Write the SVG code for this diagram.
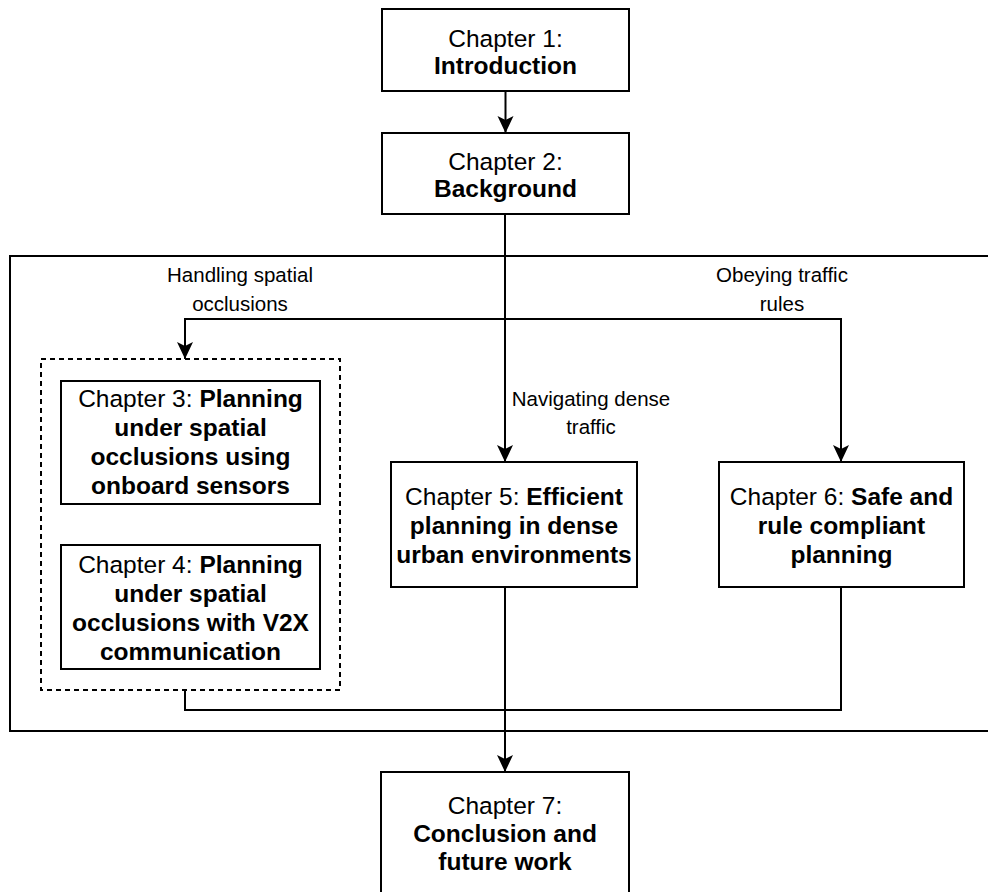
<svg xmlns="http://www.w3.org/2000/svg" width="988" height="892" viewBox="0 0 988 892">
  <style>
    .box { fill: #ffffff; stroke: #000000; stroke-width: 2; }
    .frame { fill: none; stroke: #000000; stroke-width: 2; }
    .group { fill: none; stroke: #000000; stroke-width: 2; stroke-dasharray: 5 4; }
    .edge { fill: none; stroke: #000000; stroke-width: 2; }
    .arrow { marker-end: url(#head); }
    text { font-family: "Liberation Sans", Arial, Helvetica, sans-serif; fill: #000000; text-anchor: middle; }
    .t { font-size: 24.5px; }
    .lbl { font-size: 20.5px; }
    .b { font-weight: bold; }
  </style>
  <defs>
    <marker id="head" markerUnits="userSpaceOnUse" markerWidth="18" markerHeight="18" viewBox="0 0 18 16" refX="17" refY="8" orient="auto">
      <path d="M0,0 L17,8 L0,16 L4,8 Z" fill="#000000"/>
    </marker>
  </defs>

  <!-- outer frame around the main chapters -->
  <rect id="frame" class="frame" x="10" y="256" width="990" height="475"/>

  <!-- dashed group around chapters 3 and 4 -->
  <rect id="occlusion-group" class="group" x="41" y="359" width="299" height="331"/>

  <!-- connectors -->
  <g id="connectors">
    <path class="edge arrow" d="M505.5,91 V133"/>
    <path class="edge arrow" d="M505,214 V462"/>
    <path class="edge arrow" d="M505,319 H185 V359"/>
    <path class="edge arrow" d="M505,319 H841 V462"/>
    <path class="edge arrow" d="M505,587 V772"/>
    <path class="edge" d="M185,690 V710 H841 V587"/>
  </g>

  <!-- connector labels -->
  <g id="labels">
    <text class="lbl" x="240" y="282">Handling spatial</text>
    <text class="lbl" x="240" y="311">occlusions</text>
    <text class="lbl" x="782" y="282">Obeying traffic</text>
    <text class="lbl" x="782" y="311">rules</text>
    <text class="lbl" x="591" y="406">Navigating dense</text>
    <text class="lbl" x="591" y="434">traffic</text>
  </g>

  <g id="ch1">
    <rect class="box" x="382" y="9" width="247" height="82"/>
    <text class="t" x="505.5" y="47">Chapter 1:</text>
    <text class="t b" x="505.5" y="74">Introduction</text>
  </g>

  <g id="ch2">
    <rect class="box" x="382" y="133" width="247" height="81"/>
    <text class="t" x="505.5" y="170">Chapter 2:</text>
    <text class="t b" x="505.5" y="197">Background</text>
  </g>

  <g id="ch3">
    <rect class="box" x="61" y="381" width="259" height="123"/>
    <text class="t" x="190.5" y="407">Chapter 3: <tspan class="b">Planning</tspan></text>
    <text class="t b" x="190.5" y="436">under spatial</text>
    <text class="t b" x="190.5" y="465">occlusions using</text>
    <text class="t b" x="190.5" y="494">onboard sensors</text>
  </g>

  <g id="ch4">
    <rect class="box" x="61" y="545" width="259" height="124"/>
    <text class="t" x="190.5" y="573">Chapter 4: <tspan class="b">Planning</tspan></text>
    <text class="t b" x="190.5" y="602">under spatial</text>
    <text class="t b" x="190.5" y="631">occlusions with V2X</text>
    <text class="t b" x="190.5" y="660">communication</text>
  </g>

  <g id="ch5">
    <rect class="box" x="391" y="462" width="246" height="125"/>
    <text class="t" x="514" y="505">Chapter 5: <tspan class="b">Efficient</tspan></text>
    <text class="t b" x="514" y="534">planning in dense</text>
    <text class="t b" x="514" y="563">urban environments</text>
  </g>

  <g id="ch6">
    <rect class="box" x="719" y="462" width="245" height="125"/>
    <text class="t" x="841.5" y="505">Chapter 6: <tspan class="b">Safe and</tspan></text>
    <text class="t b" x="841.5" y="534">rule compliant</text>
    <text class="t b" x="841.5" y="563">planning</text>
  </g>

  <g id="ch7">
    <rect class="box" x="381" y="772" width="248" height="125"/>
    <text class="t" x="505" y="814">Chapter 7:</text>
    <text class="t b" x="505" y="842">Conclusion and</text>
    <text class="t b" x="505" y="870">future work</text>
  </g>
</svg>
